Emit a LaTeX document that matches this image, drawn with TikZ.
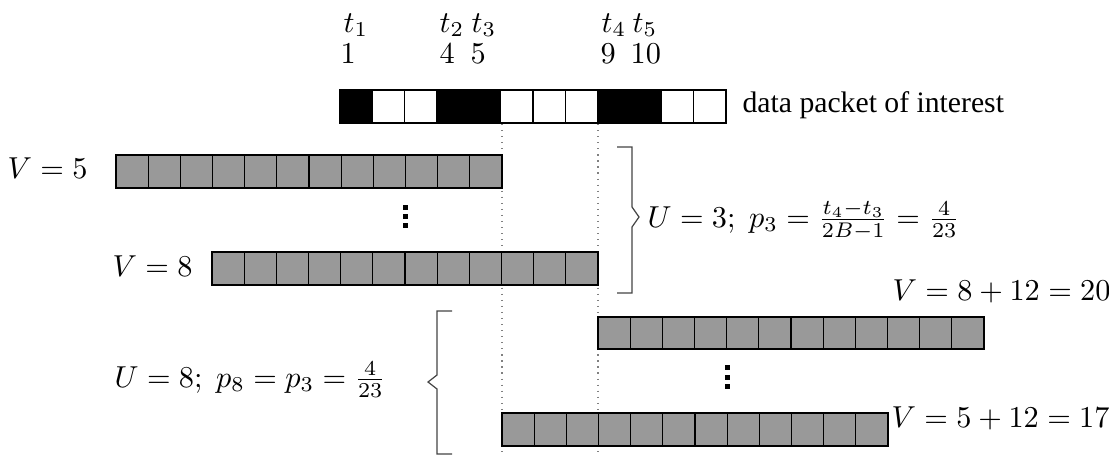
\documentclass[tikz,border=0pt]{standalone}
\usepackage{fontspec}
\newfontfamily\timesfont{Liberation Serif}
\definecolor{cellgray}{HTML}{999999}
\definecolor{bracegray}{HTML}{444444}
\begin{document}
\begin{tikzpicture}[x=0.33pt,y=-0.33pt,
  cellbox/.style={draw=black,line width=0.4pt},
  graycell/.style={cellbox,fill=cellgray},
  whitecell/.style={cellbox,fill=white},
  blackcell/.style={cellbox,fill=black},
  dotline/.style={draw=gray,line width=0.4pt,dash pattern=on 0.4pt off 1.6pt},
  bracket/.style={draw=bracegray,line width=0.4pt},
  dotsq/.style={fill=black},
  lab/.style={anchor=base west,inner sep=0pt,font=\fontsize{10}{12}\selectfont},
  ulab/.style={lab,font=\fontsize{9.6}{11}\selectfont}]
\useasboundingbox (0,0) rectangle (1109,455);
\def\cw{32.1667}
% dotted guide lines
\coordinate (d1top) at (502,124); \coordinate (d1bot) at (502,455);
\coordinate (d2top) at (598,124); \coordinate (d2bot) at (598,455);
\draw[dotline] (d1top) -- (d1bot);
\draw[dotline] (d2top) -- (d2bot);
% data packet
\foreach \i in {0,...,11} \draw[whitecell] ({340+\i*\cw},90) rectangle ({340+(\i+1)*\cw},123);
\foreach \i in {0,3,4,8,9} \draw[blackcell] ({340+\i*\cw},90) rectangle ({340+(\i+1)*\cw},123);
% rows
\foreach \i in {0,...,11} \draw[graycell] ({116+\i*\cw},155) rectangle ({116+(\i+1)*\cw},188);
\foreach \i in {0,...,11} \draw[graycell] ({212+\i*\cw},252) rectangle ({212+(\i+1)*\cw},285);
\foreach \i in {0,...,11} \draw[graycell] ({598+\i*\cw},317) rectangle ({598+(\i+1)*\cw},349);
\foreach \i in {0,...,11} \draw[graycell] ({502+\i*\cw},413) rectangle ({502+(\i+1)*\cw},446);
% labels over the packet
\node[lab] (t1) at (343,32) {$t_1$};
\node[lab] (t2) at (439,32) {$t_2$};
\node[lab] (t3) at (471,32) {$t_3$};
\node[lab] (t4) at (601,32) {$t_4$};
\node[lab] (t5) at (632,32) {$t_5$};
\node[lab] (n1) at (340,63) {1};
\node[lab] (n4) at (439,63) {4};
\node[lab] (n5) at (470,63) {5};
\node[lab] (n9) at (600,63) {9};
\node[lab] (n10) at (630,63) {10};
\node[lab,font=\fontsize{9.8}{12}\selectfont] (dp) at (742,112) {\timesfont data packet of interest};
% V labels
\node[lab] (v5) at (7,178) {$V=5$};
\node[lab] (v8) at (112,276) {$V=8$};
\node[lab] (v20) at (892,300) {$V=8+12=20$};
\node[lab] (v17) at (891,427) {$V=5+12=17$};
% vertical dots
\fill[dotsq] (403,205) rectangle (408,210);
\fill[dotsq] (403,214) rectangle (408,219);
\fill[dotsq] (403,223) rectangle (408,228);
\fill[dotsq] (725,365) rectangle (730,370);
\fill[dotsq] (725,375) rectangle (730,380);
\fill[dotsq] (725,384) rectangle (730,389);
% brackets
\draw[bracket] (617,147) -- (632,147) -- (632,207) -- (639,217) -- (632,227) -- (632,293) -- (617,293);
\draw[bracket] (452,311) -- (437,311) -- (437,375) -- (428,382) -- (437,389) -- (437,454) -- (452,454);
\node[ulab] (u3) at (647,227) {$U=3;\; p_3=\frac{t_4-t_3}{2B-1}=\frac{4}{23}$};
\node[ulab] (u8) at (114,387) {$U=8;\; p_8=p_3=\frac{4}{23}$};
\end{tikzpicture}
\end{document}
